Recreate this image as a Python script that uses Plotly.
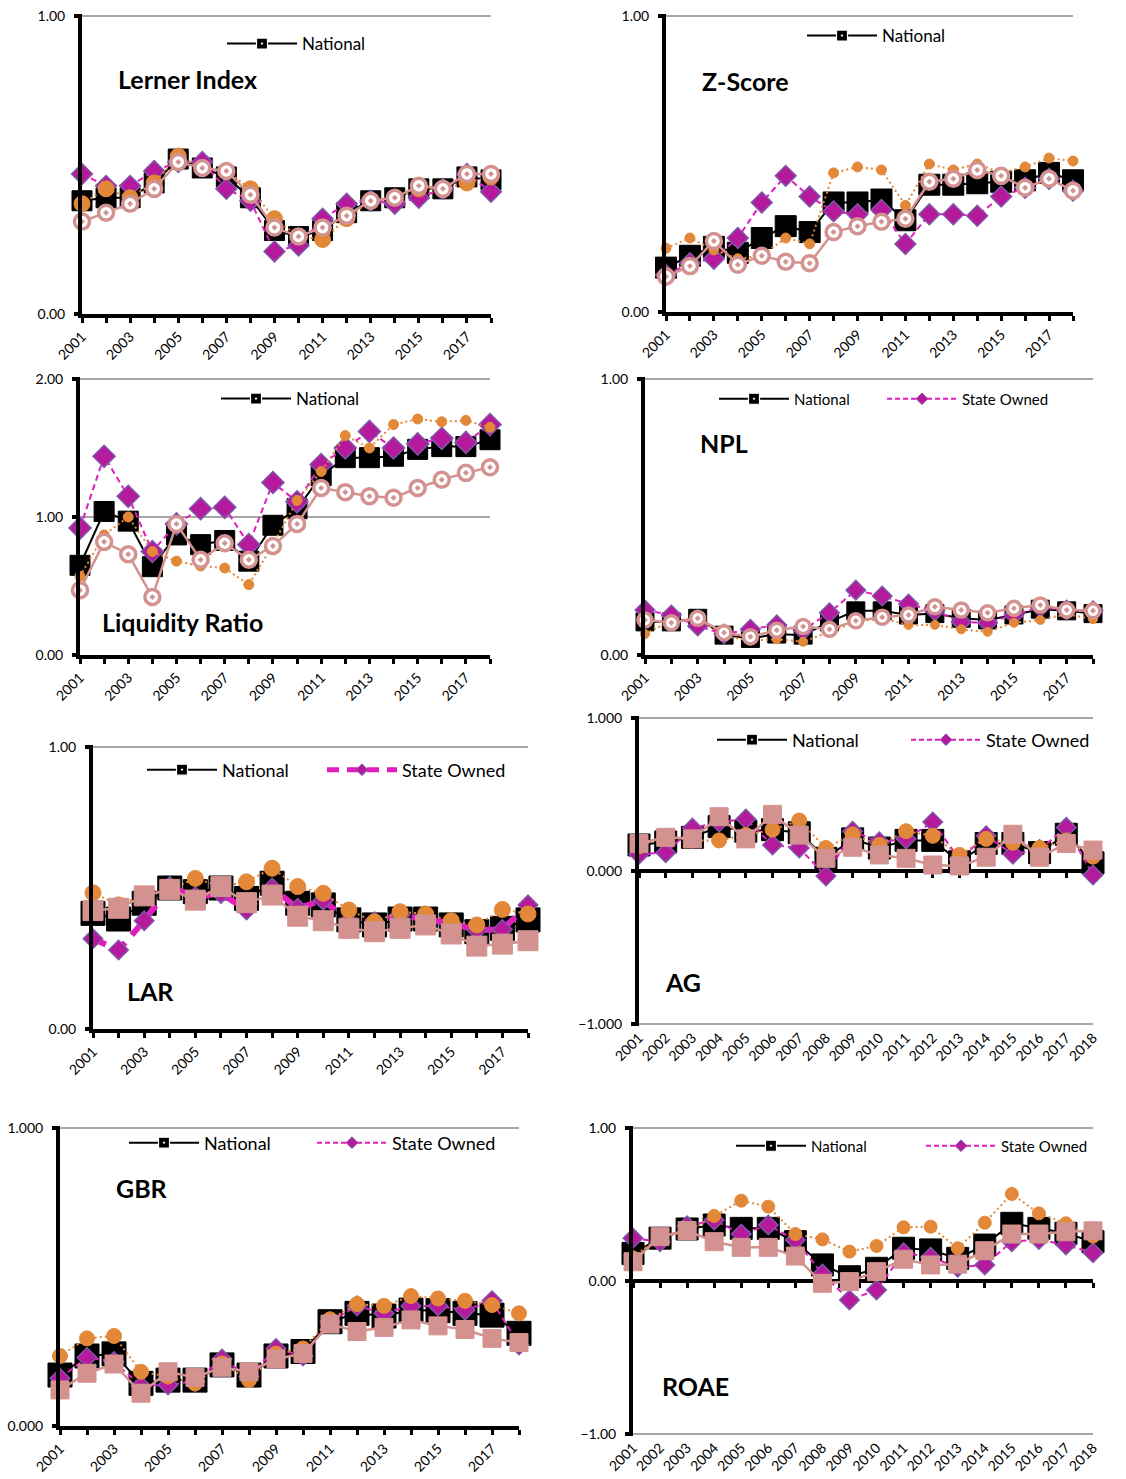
import plotly.graph_objects as go

W, H = 1126, 1479
FONT = "Lato"

years = list(range(2001, 2019))

# ---------------- data ----------------
lerner_nat = [0.38, 0.39, 0.39, 0.44, 0.52, 0.49, 0.46, 0.39, 0.28, 0.26, 0.28, 0.34, 0.38, 0.39, 0.42, 0.42, 0.46, 0.45]
lerner_state = [0.47, 0.43, 0.43, 0.48, 0.51, 0.51, 0.42, 0.38, 0.21, 0.23, 0.32, 0.37, 0.38, 0.37, 0.39, 0.42, 0.47, 0.41]
lerner_g3 = [0.37, 0.42, 0.39, 0.44, 0.53, 0.49, 0.48, 0.42, 0.32, 0.26, 0.25, 0.32, 0.38, 0.39, 0.42, 0.42, 0.44, 0.46]
lerner_g4 = [0.31, 0.34, 0.37, 0.42, 0.51, 0.49, 0.48, 0.40, 0.29, 0.26, 0.29, 0.33, 0.38, 0.39, 0.43, 0.42, 0.47, 0.47]

zscore_nat = [0.15, 0.19, 0.22, 0.20, 0.25, 0.29, 0.27, 0.37, 0.37, 0.38, 0.31, 0.43, 0.43, 0.435, 0.44, 0.445, 0.47, 0.445]
zscore_state = [0.125, 0.165, 0.18, 0.25, 0.37, 0.46, 0.39, 0.34, 0.33, 0.345, 0.23, 0.33, 0.33, 0.325, 0.39, 0.42, 0.45, 0.41]
zscore_g3 = [0.215, 0.25, 0.21, 0.18, 0.19, 0.25, 0.23, 0.47, 0.49, 0.48, 0.36, 0.50, 0.48, 0.50, 0.47, 0.49, 0.52, 0.51]
zscore_g4 = [0.12, 0.155, 0.24, 0.16, 0.19, 0.17, 0.165, 0.27, 0.29, 0.305, 0.315, 0.44, 0.45, 0.48, 0.46, 0.42, 0.45, 0.41]

liq_nat = [0.65, 1.04, 0.97, 0.64, 0.87, 0.80, 0.83, 0.68, 0.94, 1.06, 1.30, 1.43, 1.43, 1.44, 1.49, 1.51, 1.51, 1.56]
liq_state = [0.92, 1.44, 1.15, 0.75, 0.95, 1.06, 1.07, 0.80, 1.25, 1.11, 1.38, 1.50, 1.62, 1.50, 1.53, 1.57, 1.54, 1.67]
liq_g3 = [0.57, 0.87, 1.00, 0.75, 0.68, 0.645, 0.63, 0.51, 0.80, 1.12, 1.33, 1.59, 1.50, 1.67, 1.71, 1.69, 1.70, 1.65]
liq_g4 = [0.47, 0.82, 0.73, 0.42, 0.95, 0.69, 0.81, 0.69, 0.79, 0.95, 1.21, 1.18, 1.15, 1.14, 1.21, 1.27, 1.32, 1.36]

npl_nat = [0.12, 0.12, 0.133, 0.072, 0.06, 0.076, 0.072, 0.12, 0.16, 0.16, 0.145, 0.15, 0.133, 0.127, 0.145, 0.166, 0.16, 0.15]
npl_state = [0.163, 0.145, 0.105, 0.076, 0.093, 0.109, 0.09, 0.153, 0.235, 0.214, 0.185, 0.16, 0.12, 0.117, 0.145, 0.173, 0.163, 0.16]
npl_g3 = [0.076, 0.124, 0.133, 0.069, 0.052, 0.057, 0.048, 0.084, 0.12, 0.133, 0.109, 0.109, 0.093, 0.084, 0.117, 0.127, 0.148, 0.13]
npl_g4 = [0.127, 0.117, 0.133, 0.081, 0.066, 0.09, 0.103, 0.093, 0.124, 0.137, 0.145, 0.175, 0.163, 0.153, 0.169, 0.181, 0.163, 0.16]

lar_nat = [0.41, 0.39, 0.446, 0.50, 0.487, 0.50, 0.463, 0.517, 0.446, 0.44, 0.387, 0.369, 0.39, 0.39, 0.369, 0.345, 0.357, 0.387]
lar_state = [0.32, 0.28, 0.384, 0.505, 0.469, 0.481, 0.422, 0.50, 0.428, 0.457, 0.38, 0.38, 0.404, 0.39, 0.375, 0.351, 0.353, 0.44]
lar_g3 = [0.483, 0.44, 0.475, 0.493, 0.534, 0.505, 0.522, 0.57, 0.505, 0.481, 0.422, 0.38, 0.416, 0.408, 0.384, 0.369, 0.424, 0.408]
lar_g4 = [0.42, 0.428, 0.472, 0.495, 0.457, 0.505, 0.448, 0.475, 0.40, 0.384, 0.357, 0.345, 0.357, 0.369, 0.337, 0.294, 0.301, 0.313]

ag_nat = [0.17, 0.19, 0.22, 0.29, 0.26, 0.27, 0.25, 0.083, 0.21, 0.15, 0.20, 0.20, 0.06, 0.18, 0.18, 0.12, 0.24, 0.054]
ag_state = [0.11, 0.12, 0.28, 0.32, 0.34, 0.17, 0.15, -0.033, 0.26, 0.19, 0.21, 0.32, 0.076, 0.23, 0.11, 0.14, 0.285, -0.026]
ag_g3 = [0.16, 0.23, 0.20, 0.20, 0.235, 0.27, 0.33, 0.15, 0.24, 0.17, 0.26, 0.23, 0.105, 0.21, 0.185, 0.15, 0.20, 0.094]
ag_g4 = [0.18, 0.22, 0.21, 0.355, 0.21, 0.37, 0.235, 0.083, 0.155, 0.105, 0.083, 0.039, 0.033, 0.09, 0.24, 0.09, 0.18, 0.137]

gbr_nat = [0.171, 0.235, 0.242, 0.143, 0.154, 0.154, 0.205, 0.171, 0.235, 0.25, 0.35, 0.378, 0.369, 0.389, 0.387, 0.378, 0.372, 0.311]
gbr_state = [0.16, 0.23, 0.216, 0.134, 0.138, 0.149, 0.225, 0.166, 0.26, 0.235, 0.35, 0.403, 0.378, 0.403, 0.403, 0.389, 0.42, 0.272]
gbr_g3 = [0.235, 0.294, 0.302, 0.182, 0.166, 0.143, 0.21, 0.154, 0.243, 0.26, 0.358, 0.409, 0.403, 0.436, 0.428, 0.42, 0.406, 0.378]
gbr_g4 = [0.121, 0.177, 0.208, 0.11, 0.182, 0.163, 0.197, 0.182, 0.225, 0.243, 0.342, 0.317, 0.331, 0.356, 0.336, 0.324, 0.294, 0.28]

roae_nat = [0.18, 0.28, 0.34, 0.366, 0.344, 0.344, 0.257, 0.105, 0.028, 0.083, 0.214, 0.203, 0.148, 0.235, 0.377, 0.344, 0.312, 0.257]
roae_state = [0.28, 0.257, 0.36, 0.399, 0.307, 0.366, 0.268, 0.046, -0.124, -0.059, 0.185, 0.155, 0.09, 0.105, 0.257, 0.272, 0.235, 0.185]
roae_g3 = [0.155, 0.29, 0.322, 0.425, 0.525, 0.486, 0.307, 0.272, 0.192, 0.229, 0.351, 0.355, 0.214, 0.381, 0.569, 0.442, 0.377, 0.29]
roae_g4 = [0.126, 0.29, 0.33, 0.257, 0.22, 0.22, 0.163, -0.015, -0.004, 0.061, 0.142, 0.105, 0.11, 0.198, 0.307, 0.307, 0.322, 0.328]

series_names = ["National", "State Owned", "Group 3", "Group 4"]

# ---------------- styles ----------------
BLACK = "#000000"
MAG_LINE = "#E01EBE"
DIA_FILL = "#B5199C"
DIA_EDGE = "#7D58A8"
ORANGE = "#E38838"
PINK = "#D3928F"
GRID = "#A6A6A6"


def fx(px):
    return px / W


def fy(py):
    return 1 - py / H


panels = [
    dict(title="Lerner Index", data=(lerner_nat, lerner_state, lerner_g3, lerner_g4),
         xd=(82, 491), yd=(16, 314), yr=(0, 1), fmt=".2f", every=2,
         title_pos=(119, 79), sizes=(20, 16, 16, 15), pinksym="ring", sw=2,
         leg=[(228, 44, 17)]),
    dict(title="Z-Score", data=(zscore_nat, zscore_state, zscore_g3, zscore_g4),
         xd=(666, 1073), yd=(16, 312), yr=(0, 1), fmt=".2f", every=2,
         title_pos=(703, 81), sizes=(21, 16, 10, 15), pinksym="ring", sw=2,
         leg=[(808, 36, 17)]),
    dict(title="Liquidity Ratio", data=(liq_nat, liq_state, liq_g3, liq_g4),
         xd=(80, 490), yd=(379, 655), yr=(0, 2), fmt=".2f", every=2,
         title_pos=(103, 622), sizes=(20, 17, 10, 15), pinksym="ring", sw=2,
         leg=[(222, 399, 17)]),
    dict(title="NPL", data=(npl_nat, npl_state, npl_g3, npl_g4),
         xd=(645, 1093), yd=(379, 655), yr=(0, 1), fmt=".2f", every=2,
         title_pos=(701, 443), sizes=(18, 15, 9, 14), pinksym="ring", sw=2,
         leg=[(720, 399, 15), (888, 399, 15)]),
    dict(title="LAR", data=(lar_nat, lar_state, lar_g3, lar_g4),
         xd=(93, 528), yd=(747, 1029), yr=(0, 1), fmt=".2f", every=2,
         title_pos=(128, 991), sizes=(24, 15, 16, 20), pinksym="square", sw=6,
         leg=[(148, 770, 18), (328, 770, 18)]),
    dict(title="AG", data=(ag_nat, ag_state, ag_g3, ag_g4),
         xd=(639, 1093), yd=(718, 1024), yr=(-1, 1), fmt=".3f", every=1, zero=True,
         title_pos=(666, 982), sizes=(22, 15, 15, 18), pinksym="square", sw=2,
         leg=[(718, 740, 18), (912, 740, 18)]),
    dict(title="GBR", data=(gbr_nat, gbr_state, gbr_g3, gbr_g4),
         xd=(60, 519), yd=(1128, 1426), yr=(0, 1), fmt=".3f", every=2,
         title_pos=(117, 1188), sizes=(24, 15, 15, 18), pinksym="square", sw=2,
         leg=[(130, 1143, 18), (318, 1143, 18)]),
    dict(title="ROAE", data=(roae_nat, roae_state, roae_g3, roae_g4),
         xd=(633, 1093), yd=(1128, 1434), yr=(-1, 1), fmt=".2f", every=1, zero=True,
         title_pos=(663, 1386), sizes=(22, 15, 13, 18), pinksym="square", sw=2,
         leg=[(737, 1146, 15), (927, 1146, 15)]),
]

fig = go.Figure()
layout = dict(
    width=W, height=H, margin=dict(l=0, r=0, t=0, b=0, autoexpand=False),
    paper_bgcolor="white", plot_bgcolor="white", showlegend=True,
    font=dict(family=FONT, color="black"),
)
annotations = []
legend_count = 0
extra_axis = 9


def state_dash(sw):
    return "6px,4px" if sw < 4 else "14px,10px"


for i, p in enumerate(panels, start=1):
    xa = "x" if i == 1 else f"x{i}"
    ya = "y" if i == 1 else f"y{i}"
    nat, st, g3, g4 = p["data"]
    s_nat, s_dia, s_or, s_pk = p["sizes"]
    has_zero = p.get("zero", False)

    xt = f"x{extra_axis}" if has_zero else xa

    common = dict(x=years, xaxis=xt, yaxis=ya, mode="lines+markers", cliponaxis=False,
                  showlegend=False)

    fig.add_trace(go.Scatter(
        y=nat, name=series_names[0],
        line=dict(color=BLACK, width=2),
        marker=dict(symbol="square", size=s_nat, color=BLACK, line=dict(color=BLACK, width=1)),
        **common))
    fig.add_trace(go.Scatter(
        y=st, name=series_names[1],
        line=dict(color=MAG_LINE, width=p["sw"], dash=state_dash(p["sw"])),
        marker=dict(symbol="diamond", size=s_dia, color=DIA_FILL, line=dict(color=DIA_EDGE, width=1.5)),
        **common))
    fig.add_trace(go.Scatter(
        y=g3, name=series_names[2],
        line=dict(color=ORANGE, width=2, dash="2px,3px"),
        marker=dict(symbol="circle", size=s_or, color=ORANGE, line=dict(color=ORANGE, width=1)),
        **common))
    if p["pinksym"] == "ring":
        pm = dict(symbol="circle-dot", size=s_pk, color="white", line=dict(color=PINK, width=3.5))
    else:
        pm = dict(symbol="square", size=s_pk, color=PINK, line=dict(color=PINK, width=1))
    fig.add_trace(go.Scatter(
        y=g4, name=series_names[3],
        line=dict(color=PINK, width=2.5), marker=pm, **common))

    # legend entries (one legend box per entry so each sits where the original has it)
    for k, (lx, ly, fs) in enumerate(p["leg"]):
        legend_count += 1
        lname = "legend" if legend_count == 1 else f"legend{legend_count}"
        layout[lname] = dict(
            x=fx(lx - 6), y=fy(ly), xanchor="left", yanchor="middle",
            bgcolor="rgba(0,0,0,0)", borderwidth=0, orientation="h",
            itemwidth=70, font=dict(family=FONT, size=fs, color="black"),
        )
        if k == 0:
            fig.add_trace(go.Scatter(
                x=[None], y=[None], xaxis=xa, yaxis=ya, name=series_names[0], legend=lname,
                mode="lines+markers", showlegend=True,
                line=dict(color=BLACK, width=2),
                marker=dict(symbol="square-dot", size=11, color=BLACK,
                            line=dict(color="white", width=1.2))))
        else:
            fig.add_trace(go.Scatter(
                x=[None], y=[None], xaxis=xa, yaxis=ya, name=series_names[1], legend=lname,
                mode="lines+markers", showlegend=True,
                line=dict(color=MAG_LINE, width=min(p["sw"], 5),
                          dash="5px,3px" if p["sw"] < 4 else "12px,8px"),
                marker=dict(symbol="diamond", size=9, color=DIA_FILL,
                            line=dict(color=DIA_EDGE, width=1))))

    # y range padded slightly so gridlines at the range ends stay visible
    top_px, bot_px = p["yd"]
    y0v, y1v = p["yr"]
    vpp = (y1v - y0v) / (bot_px - top_px)
    pad_t = 2
    pad_b = 2 if has_zero else 0
    yrange = [y0v - pad_b * vpp, y1v + pad_t * vpp]
    ydom = [fy(bot_px + pad_b), fy(top_px - pad_t)]
    xdom = [fx(p["xd"][0]), fx(p["xd"][1])]

    xaxis = dict(
        domain=xdom, anchor=ya, range=[2001, 2018], tickmode="linear", tick0=2001,
        dtick=p["every"], tickangle=-45, showgrid=False, zeroline=False,
        ticklabeloverflow="allow",
        tickfont=dict(family=FONT, size=14, color="black"),
    )
    if has_zero:
        xaxis.update(showline=False, ticks="")
    else:
        xaxis.update(showline=True, linewidth=4, linecolor=BLACK, ticks="outside",
                     ticklen=5, tickwidth=3, tickcolor=BLACK,
                     minor=dict(dtick=1, tick0=2001, ticks="outside", ticklen=5,
                                tickwidth=3, tickcolor=BLACK, showgrid=False))
    yaxis = dict(
        domain=ydom, anchor=xa, range=yrange, tickmode="linear", tick0=y0v, dtick=1,
        tickformat=p["fmt"], showline=True, linewidth=4, linecolor=BLACK,
        ticks="outside", ticklen=4, tickwidth=4, tickcolor=BLACK, ticklabelstandoff=6,
        ticklabeloverflow="allow",
        showgrid=True, gridcolor=GRID, gridwidth=2, zeroline=False,
        tickfont=dict(family=FONT, size=14, color="black"),
    )
    layout["xaxis" if i == 1 else f"xaxis{i}"] = xaxis
    layout["yaxis" if i == 1 else f"yaxis{i}"] = yaxis

    if has_zero:
        zero_px = bot_px - (0 - y0v) / vpp
        layout[f"xaxis{extra_axis}"] = dict(
            overlaying=xa, anchor="free", position=fy(zero_px), range=[2001, 2018],
            tickmode="linear", tick0=2001, dtick=1, showticklabels=False,
            showline=True, linewidth=4, linecolor=BLACK, ticks="outside",
            ticklen=5, tickwidth=3, tickcolor=BLACK, showgrid=False, zeroline=False,
            layer="below traces",
        )
        extra_axis += 1

    tx, ty = p["title_pos"]
    annotations.append(dict(
        text=f"<b>{p['title']}</b>", x=fx(tx - 3), y=fy(ty), xref="paper", yref="paper",
        xanchor="left", yanchor="middle", showarrow=False,
        font=dict(family=FONT, size=25, color="black"),
    ))

layout["annotations"] = annotations
fig.update_layout(**layout)
fig.write_html(
    "out.html",
    config={"displayModeBar": False},
    post_script="document.body.style.margin='0px';document.body.style.overflow='hidden';",
)
